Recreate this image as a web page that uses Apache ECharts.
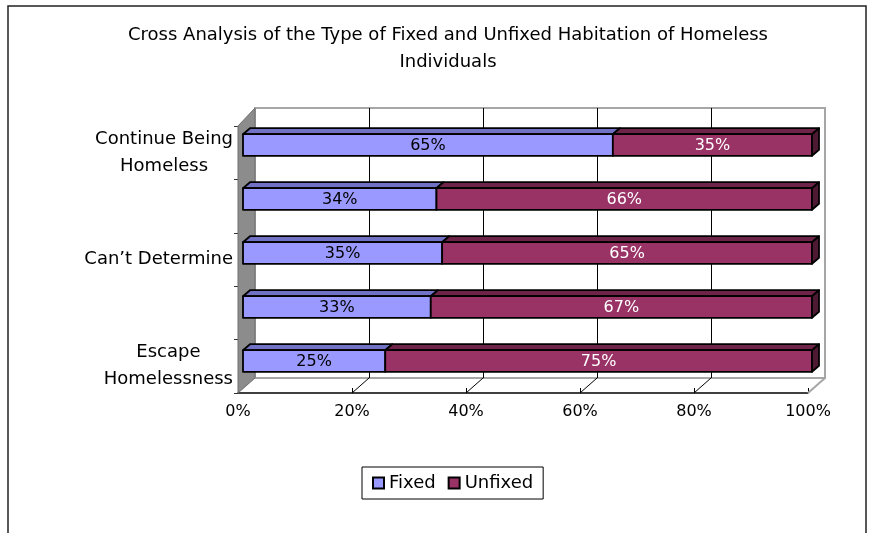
<!DOCTYPE html>
<html>
<head>
<meta charset="utf-8">
<script src="https://cdn.jsdelivr.net/npm/echarts@6/dist/echarts.min.js"></script>
<style>
html, body { margin: 0; padding: 0; background: #fff; }
#main { width: 869px; height: 533px; }
</style>
</head>
<body>
<div id="main"></div>
<script>
// data, bottom row first
var categories = ['Escape\nHomelessness', '', 'Can\u2019t Determine', '', 'Continue Being\nHomeless'];
var fixed = [25, 33, 35, 34, 65];
var unfixed = [75, 67, 65, 66, 35];
var seriesNames = ['Fixed', 'Unfixed'];
var xTicks = [0, 20, 40, 60, 80, 100];
var titleText = 'Cross Analysis of the Type of Fixed and Unfixed Habitation of Homeless\nIndividuals';

var FONT = '"DejaVu Sans", sans-serif';
// fake 3d: front plane (axes), plane of the bars, back wall
var front = {left: 238, top: 126, width: 570, height: 267};
var mid = {left: 243, top: 118, width: 569, height: 270};
var back = {left: 255, top: 108, width: 570, height: 270};
var DEPTH = [7, -6];

var colors = {
    Fixed: ['#9999ff', '#7171c6', '#5a5aa6'],
    Unfixed: ['#993366', '#6e2449', '#4d1933']
};

function makeBar(name, last, textColor) {
    var c = colors[name];
    return function (params, api) {
        var cat = api.value(0);
        var p0 = api.coord([api.value(1), cat]);
        var p1 = api.coord([api.value(2), cat]);
        var h = api.size([0, 1])[1] * 0.4;
        var x0 = p0[0], x1 = p1[0];
        var y0 = p0[1] - h / 2, y1 = p0[1] + h / 2;
        var dx = DEPTH[0], dy = DEPTH[1];
        var edge = {stroke: '#000', lineWidth: 1.8, lineJoin: 'round'};
        var children = [
            {type: 'polygon', shape: {points: [[x0, y0], [x0 + dx, y0 + dy], [x1 + dx, y0 + dy], [x1, y0]]},
                style: Object.assign({fill: c[1]}, edge)},
            {type: 'rect', shape: {x: x0, y: y0, width: x1 - x0, height: h},
                style: Object.assign({fill: c[0]}, edge)}
        ];
        if (last) {
            children.push({type: 'polygon', shape: {points: [[x1, y0], [x1 + dx, y0 + dy], [x1 + dx, y1 + dy], [x1, y1]]},
                style: Object.assign({fill: c[2]}, edge)});
        }
        children.push({type: 'text', x: (x0 + x1) / 2, y: p0[1] + 1,
            style: {text: api.value(3) + '%', fill: textColor, font: '16px ' + FONT, align: 'center', verticalAlign: 'middle'}});
        return {type: 'group', children: children};
    };
}

var fixedData = [], unfixedData = [];
for (var i = 0; i < categories.length; i++) {
    fixedData.push([i, 0, fixed[i], fixed[i]]);
    unfixedData.push([i, fixed[i], fixed[i] + unfixed[i], unfixed[i]]);
}

var myChart = echarts.init(document.getElementById('main'), null, {renderer: 'canvas'});

var option = {
    backgroundColor: '#fff',
    animation: false,
    textStyle: {fontFamily: FONT},
    legend: {
        left: 362, top: 467,
        data: seriesNames,
        icon: 'rect',
        itemWidth: 11, itemHeight: 11, itemGap: 12,
        padding: [7, 10],
        borderColor: '#000', borderWidth: 1,
        textStyle: {fontSize: 18, color: '#000', fontFamily: FONT}
    },
    grid: [
        {left: mid.left, top: mid.top, width: mid.width, height: mid.height},
        {left: back.left, top: back.top, width: back.width, height: back.height,
            show: true, backgroundColor: '#fff', borderColor: '#a6a6a6', borderWidth: 2},
        {left: front.left, top: front.top, width: front.width, height: front.height}
    ],
    xAxis: [
        {gridIndex: 0, type: 'value', min: 0, max: 100, show: false},
        {gridIndex: 1, type: 'value', min: 0, max: 100, interval: 20,
            axisLine: {show: false}, axisTick: {show: false}, axisLabel: {show: false},
            splitLine: {show: true, showMinLine: false, showMaxLine: false, lineStyle: {color: '#000', width: 1}}},
        {gridIndex: 2, type: 'value', min: 0, max: 100, interval: 20,
            axisLine: {show: true, lineStyle: {color: '#000', width: 1.5}},
            axisTick: {show: true, inside: true, length: 5, lineStyle: {color: '#000'}},
            axisLabel: {formatter: '{value}%', fontSize: 16, color: '#000', margin: 11, fontFamily: FONT},
            splitLine: {show: false}}
    ],
    yAxis: [
        {gridIndex: 0, type: 'category', data: categories, show: false},
        {gridIndex: 1, type: 'value', show: false},
        {gridIndex: 2, type: 'category', data: categories,
            axisLine: {show: false},
            axisTick: {show: true, length: 4, lineStyle: {color: '#333'}},
            axisLabel: {
                margin: 5, align: 'right', color: '#000',
                formatter: function (v) {
                    if (!v) return '';
                    return v.split('\n').map(function (s) { return '{c|' + s + '}'; }).join('\n');
                },
                rich: {c: {align: 'center', fontSize: 18, lineHeight: 27, fontFamily: FONT, color: '#000'}}
            }}
    ],
    series: [
        {name: 'Fixed', type: 'custom', xAxisIndex: 0, yAxisIndex: 0, z: 5,
            itemStyle: {color: colors.Fixed[0], borderColor: '#000', borderWidth: 1.5},
            encode: {x: [1, 2], y: 0},
            renderItem: makeBar('Fixed', false, '#000'),
            data: fixedData},
        {name: 'Unfixed', type: 'custom', xAxisIndex: 0, yAxisIndex: 0, z: 5,
            itemStyle: {color: colors.Unfixed[0], borderColor: '#000', borderWidth: 1.5},
            encode: {x: [1, 2], y: 0},
            renderItem: makeBar('Unfixed', true, '#fff'),
            data: unfixedData}
    ]
};
myChart.setOption(option);

// walls, floor and frame, placed from the axes
var fb = front.top + front.height, bb = back.top + back.height;
var gfx = [
    {type: 'rect', z: 0, silent: true, shape: {x: 8, y: 6, width: 858, height: 560},
        style: {fill: 'none', stroke: '#222', lineWidth: 1.5}},
    {type: 'text', z: 1, style: {text: titleText, x: 448, y: 22, align: 'center', font: '18px ' + FONT,
        lineHeight: 27, fill: '#000'}}
];
xTicks.forEach(function (v) {
    if (v === 0) return;
    var xf = myChart.convertToPixel({xAxisIndex: 2}, v);
    var xb = myChart.convertToPixel({xAxisIndex: 1}, v);
    gfx.push({type: 'line', z: 1, shape: {x1: xf, y1: fb, x2: xb, y2: bb},
        style: {stroke: v === 100 ? '#a6a6a6' : '#000', lineWidth: v === 100 ? 2 : 1}});
});
gfx.push({type: 'polygon', z: 2,
    shape: {points: [[front.left, front.top], [back.left, back.top], [back.left, bb], [front.left, fb]]},
    style: {fill: '#8c8c8c', stroke: '#6e6e6e', lineWidth: 1}});
myChart.setOption({graphic: gfx});
</script>
</body>
</html>
